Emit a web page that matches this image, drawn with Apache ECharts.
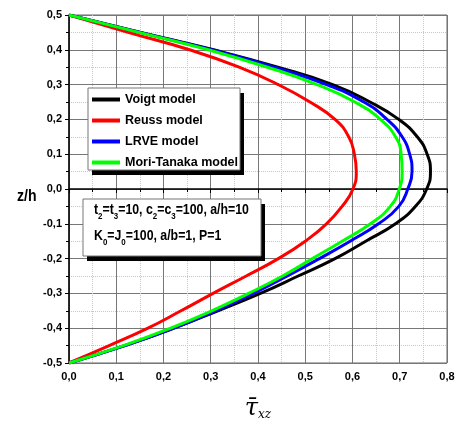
<!DOCTYPE html>
<html>
<head>
<meta charset="utf-8">
<script src="https://cdn.jsdelivr.net/npm/echarts@6/dist/echarts.min.js"></script>
<style>
  html, body { margin: 0; padding: 0; background: #fff; }
  #chart { width: 458px; height: 426px; }
</style>
</head>
<body>
<div id="chart"></div>
<script>
  // z/h levels (bottom to top)
  const zLevels = [-0.5, -0.45, -0.4, -0.35, -0.3, -0.25, -0.2, -0.15, -0.1, -0.05, 0,
    0.05, 0.1, 0.15, 0.2, 0.25, 0.3, 0.35, 0.4, 0.45, 0.5];
  const voigt = [0, 0.118, 0.222, 0.315, 0.405, 0.485, 0.563, 0.628, 0.691, 0.733, 0.757,
    0.765, 0.758, 0.737, 0.698, 0.637, 0.558, 0.442, 0.306, 0.152, 0];
  const reuss = [0, 0.085, 0.167, 0.237, 0.305, 0.375, 0.443, 0.50, 0.545, 0.578, 0.601,
    0.608, 0.604, 0.592, 0.563, 0.51, 0.443, 0.36, 0.255, 0.125, 0];
  const lrve = [0, 0.118, 0.222, 0.31, 0.39, 0.462, 0.53, 0.595, 0.655, 0.698, 0.717,
    0.726, 0.721, 0.705, 0.673, 0.624, 0.545, 0.435, 0.302, 0.15, 0];
  const moriTanaka = [0, 0.115, 0.215, 0.302, 0.38, 0.452, 0.515, 0.578, 0.638, 0.68, 0.699,
    0.705, 0.703, 0.691, 0.659, 0.605, 0.525, 0.42, 0.295, 0.148, 0];

  const seriesNames = ['Voigt model', 'Reuss model', 'LRVE model', 'Mori-Tanaka model'];
  const seriesColors = ['#000000', '#ff0000', '#0000ff', '#00ff00'];
  const seriesValues = [voigt, reuss, lrve, moriTanaka];

  const sans = "'Liberation Sans', Arial, sans-serif";

  function pairs(vals) {
    return vals.map((v, i) => [v, zLevels[i]]);
  }
  function comma(v) {
    return v.toFixed(1).replace('.', ',');
  }
  // white box with a hard black drop shadow
  function shadowBox(x, y, w, h) {
    return [{
      type: 'rect', z: 3, silent: true,
      shape: { x: x + 4, y: y + 5, width: w, height: h },
      style: { fill: '#000', stroke: null }
    }, {
      type: 'rect', z: 3, silent: true,
      shape: { x: x, y: y, width: w, height: h },
      style: { fill: '#fff', stroke: '#777', lineWidth: 1 }
    }];
  }

  const chart = echarts.init(document.getElementById('chart'));
  const option = {
    animation: false,
    backgroundColor: '#fff',
    grid: {
      left: 69, right: 11, top: 15, bottom: 59,
      show: true, borderColor: '#666', borderWidth: 1
    },
    legend: {
      data: seriesNames,
      orient: 'vertical',
      left: 88, top: 89,
      padding: [4, 3, 3, 4],
      itemGap: 8,
      itemWidth: 28, itemHeight: 4,
      icon: 'rect',
      textStyle: { fontFamily: sans, fontWeight: 'bold', fontSize: 12.5, color: '#000' }
    },
    xAxis: {
      type: 'value', min: 0, max: 0.8, interval: 0.1,
      axisLine: { lineStyle: { color: '#000', width: 1.5 } },
      axisTick: { show: true, inside: false, length: 4, lineStyle: { color: '#000' } },
      minorTick: { show: true, splitNumber: 2, length: 3, lineStyle: { color: '#000' } },
      splitLine: { show: true, lineStyle: { color: '#777', width: 1 } },
      minorSplitLine: { show: true, lineStyle: { color: '#c8c8c8', type: 'dotted', width: 1 } },
      axisLabel: {
        formatter: comma, margin: 8,
        fontFamily: sans, fontWeight: 'bold', fontSize: 11, color: '#000'
      },
      name: '{t|τ\u0304}{s|xz}',
      nameLocation: 'middle', nameGap: 34,
      nameTextStyle: {
        rich: {
          t: { fontFamily: "'DejaVu Serif', serif", fontStyle: 'italic', fontSize: 24, color: '#000' },
          s: { fontFamily: "'DejaVu Serif', serif", fontStyle: 'italic', fontSize: 12, color: '#000',
               verticalAlign: 'bottom', padding: [10, 0, 0, 0] }
        }
      }
    },
    yAxis: {
      type: 'value', min: -0.5, max: 0.5, interval: 0.1,
      axisLine: { lineStyle: { color: '#000', width: 1.5 } },
      axisTick: { show: true, inside: false, length: 4, lineStyle: { color: '#000' } },
      minorTick: { show: true, splitNumber: 2, length: 3, lineStyle: { color: '#000' } },
      splitLine: { show: true, lineStyle: { color: '#777', width: 1 } },
      minorSplitLine: { show: true, lineStyle: { color: '#c8c8c8', type: 'dotted', width: 1 } },
      axisLabel: {
        formatter: comma, margin: 7,
        fontFamily: sans, fontWeight: 'bold', fontSize: 11, color: '#000'
      }
    },
    graphic: [].concat(
      shadowBox(88, 88, 152, 82),
      shadowBox(83, 199, 178, 57),
      [{
        type: 'text', z: 5, left: 94, top: 203,
        scaleX: 0.88,
        style: {
          text: '{m|t}{s|2}{m|=t}{s|3}{m|=10, c}{s|2}{m|=c}{s|3}{m|=100, a/h=10}\n' +
                '{m|K}{s|0}{m|=J}{s|0}{m|=100, a/b=1, P=1}',
          rich: {
            m: { fontFamily: sans, fontWeight: 'bold', fontSize: 14, lineHeight: 26, color: '#000' },
            s: { fontFamily: sans, fontWeight: 'bold', fontSize: 9, lineHeight: 9, color: '#000',
                 verticalAlign: 'bottom', padding: [0, 0, 2, 0] }
          }
        }
      }, {
        type: 'text', z: 5, left: 17, top: 189,
        scaleX: 0.88,
        style: { text: 'z/h', fontFamily: sans, fontWeight: 'bold', fontSize: 16, fill: '#000' }
      }]
    ),
    series: seriesNames.map((name, i) => ({
      name: name,
      type: 'line',
      smooth: 0.5,
      symbol: 'none',
      lineStyle: { color: seriesColors[i], width: 3 },
      itemStyle: { color: seriesColors[i] },
      data: pairs(seriesValues[i])
    }))
  };
  chart.setOption(option);
</script>
</body>
</html>
